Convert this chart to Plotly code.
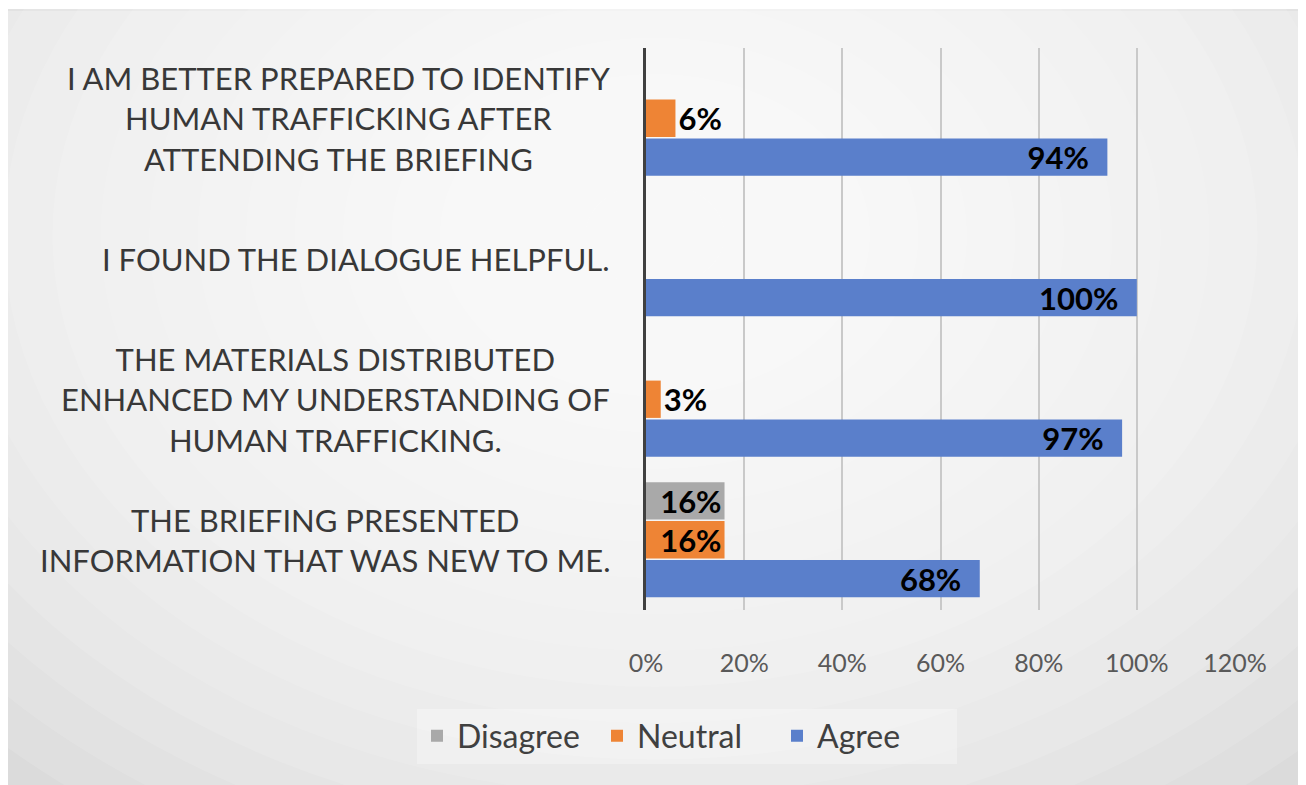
import plotly.graph_objects as go

categories = [
    "THE BRIEFING PRESENTED<br>INFORMATION THAT WAS NEW TO ME.",
    "THE MATERIALS DISTRIBUTED<br>ENHANCED MY UNDERSTANDING OF<br>HUMAN TRAFFICKING.",
    "I FOUND THE DIALOGUE HELPFUL.",
    "I AM BETTER PREPARED TO IDENTIFY<br>HUMAN TRAFFICKING AFTER<br>ATTENDING THE BRIEFING",
]
agree = [68, 97, 100, 94]
neutral = [16, 3, 0, 6]
disagree = [16, 0, 0, 0]
x_ticks = [0, 20, 40, 60, 80, 100, 120]
x_tick_labels = ["0%", "20%", "40%", "60%", "80%", "100%", "120%"]

colors = {"Agree": "#5A7FCB", "Neutral": "#EE8435", "Disagree": "#A9A9A9"}
FONT = "Lato"

# The page body has an 8px margin; figure coordinates = page pixels - OFF
OFF = 8
W, H = 1306 - OFF, 785 - OFF
L, R, T, B = 646 - OFF, 71, 48 - OFF, 175
pw, ph = W - L - R, H - T - B

def px_x(p):
    return (p - OFF - L) / pw

def px_y(p):
    return (H - B - (p - OFF)) / ph

fig = go.Figure()
for name, vals in [("Agree", agree), ("Neutral", neutral), ("Disagree", disagree)]:
    texts = []
    pos = []
    for v in vals:
        if not v:
            texts.append("")
            pos.append("none")
        elif v >= 40:
            texts.append(f"{v}%\u2002")
            pos.append("inside")
        elif v >= 12:
            texts.append(f"{v}%")
            pos.append("inside")
        else:
            texts.append(f"{v}%")
            pos.append("outside")
    lab = dict(family=FONT, size=31, color="#000000", weight="bold")
    fig.add_trace(go.Bar(
        y=categories, x=vals, name=name, orientation="h",
        marker=dict(color=colors[name], line=dict(width=0)),
        text=texts, textposition=pos, insidetextanchor="end",
        constraintext="none", cliponaxis=False,
        textfont=lab, insidetextfont=lab, outsidetextfont=lab,
    ))

for c in categories:
    fig.add_annotation(
        x=px_x(612), xref="paper", xanchor="right",
        y=c, yref="y", yanchor="middle",
        text=c, showarrow=False, align="center",
        font=dict(family=FONT, size=31, color="#383838"),
    )

# chart-area background: grey frame with a soft radial light centre
shapes = [dict(
    type="rect", xref="paper", yref="paper",
    x0=px_x(7), x1=px_x(1320), y0=px_y(800), y1=px_y(10),
    fillcolor="#d7d7d7", line=dict(color="#c4c4c4", width=2), layer="below",
)]
cx, cy = 655, 235
n = 20
for i in range(n):
    rx = 990 - i * (990 - 70) / (n - 1)
    ry = rx * 0.75
    shapes.append(dict(
        type="circle", xref="paper", yref="paper",
        x0=px_x(cx - rx), x1=px_x(cx + rx), y0=px_y(cy + ry), y1=px_y(cy - ry),
        fillcolor="rgba(255,255,255,0.123)", line=dict(width=0), layer="below",
    ))
fig.update_layout(shapes=shapes)

fig.update_layout(
    width=W, height=H,
    margin=dict(l=L, r=R, t=T, b=B, pad=0),
    paper_bgcolor="#ffffff", plot_bgcolor="rgba(0,0,0,0)",
    barmode="group", bargap=0.17, bargroupgap=0.04,
    showlegend=True,
    legend=dict(
        orientation="h", traceorder="reversed",
        x=px_x(687), xanchor="center", y=px_y(736), yanchor="middle",
        xref="paper", yref="paper",
        bgcolor="rgba(255,255,255,0.3)", borderwidth=0,
        font=dict(family=FONT, size=32, color="#404040"),
        itemwidth=30, entrywidth=135, entrywidthmode="pixels",
    ),
    font=dict(family=FONT, color="#595959"),
)
fig.update_xaxes(
    range=[0, 120], tickvals=x_ticks, ticktext=x_tick_labels,
    showgrid=True, gridcolor="#c9c9c9", gridwidth=2,
    zeroline=False, showline=False,
    ticks="", ticklabelstandoff=36,
    tickfont=dict(family=FONT, size=25, color="#595959"),
)
fig.update_yaxes(
    categoryorder="array", categoryarray=categories,
    showticklabels=False, showgrid=False, zeroline=False,
    showline=True, linecolor="#404040", linewidth=3,
)

fig.write_html("out.html")
